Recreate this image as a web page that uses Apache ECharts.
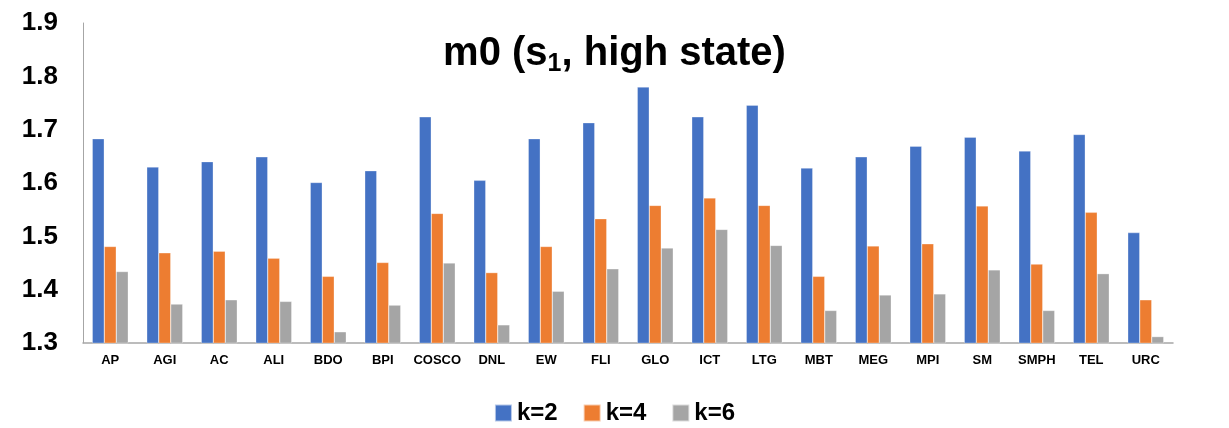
<!DOCTYPE html>
<html>
<head>
<meta charset="utf-8">
<script src="https://cdn.jsdelivr.net/npm/echarts@6/dist/echarts.min.js"></script>
<style>
  html, body { margin: 0; padding: 0; background: #fff; }
  #main { width: 1229px; height: 428px; }
</style>
</head>
<body>
<div id="main"></div>
<script>
// categories (stocks)
const categories = ['AP', 'AGI', 'AC', 'ALI', 'BDO', 'BPI', 'COSCO', 'DNL', 'EW', 'FLI',
  'GLO', 'ICT', 'LTG', 'MBT', 'MEG', 'MPI', 'SM', 'SMPH', 'TEL', 'URC'];

// m0 values per k
const k2 = [1.683, 1.630, 1.640, 1.649, 1.601, 1.623, 1.724, 1.605, 1.683, 1.713,
  1.780, 1.724, 1.746, 1.628, 1.649, 1.669, 1.686, 1.660, 1.691, 1.507];
const k4 = [1.481, 1.469, 1.472, 1.459, 1.425, 1.451, 1.543, 1.432, 1.481, 1.533,
  1.558, 1.572, 1.558, 1.425, 1.482, 1.486, 1.557, 1.448, 1.545, 1.381];
const k6 = [1.434, 1.373, 1.381, 1.378, 1.321, 1.371, 1.450, 1.334, 1.397, 1.439,
  1.478, 1.513, 1.483, 1.361, 1.390, 1.392, 1.437, 1.361, 1.430, 1.312];

const seriesNames = ['k=2', 'k=4', 'k=6'];
const colors = ['#4472C4', '#ED7D31', '#A5A5A5'];

const chart = echarts.init(document.getElementById('main'), null, { renderer: 'canvas' });

const font = 'Arial, "Liberation Sans", sans-serif';

const barStyle = (c) => ({ color: c, borderColor: 'rgba(255,255,255,0.6)', borderWidth: 0.5 });

chart.setOption({
  animation: false,
  backgroundColor: '#fff',
  color: colors,
  title: {
    text: '{a|m0 (s}{b|1}{a|, high state)}',
    left: 'center',
    top: 26,
    textStyle: {
      rich: {
        a: { fontFamily: font, fontSize: 40, lineHeight: 46, fontWeight: 'bold', color: '#000' },
        b: { fontFamily: font, fontSize: 25, lineHeight: 20, fontWeight: 'bold', color: '#000', verticalAlign: 'bottom' }
      }
    }
  },
  legend: {
    top: 396,
    left: 'center',
    itemWidth: 17,
    itemHeight: 17,
    itemGap: 25,
    icon: 'rect',
    textStyle: { fontFamily: font, fontSize: 24, fontWeight: 'bold', color: '#000' },
    data: seriesNames
  },
  grid: { left: 83, right: 56, top: 23, bottom: 85, containLabel: false },
  xAxis: {
    type: 'category',
    data: categories,
    axisLine: { lineStyle: { color: '#a6a6a6', width: 1.5 } },
    axisTick: { show: false },
    axisLabel: { fontFamily: font, fontSize: 13, fontWeight: 'bold', color: '#000', margin: 11, interval: 0 }
  },
  yAxis: {
    type: 'value',
    min: 1.3,
    max: 1.9,
    interval: 0.1,
    axisLine: { show: true, lineStyle: { color: '#a6a6a6', width: 1 } },
    axisTick: { show: false },
    splitLine: { show: false },
    axisLabel: {
      fontFamily: font, fontSize: 26, fontWeight: 'bold', color: '#000', margin: 25,
      formatter: (v) => v.toFixed(1)
    }
  },
  series: [
    { name: seriesNames[0], type: 'bar', data: k2, itemStyle: barStyle(colors[0]), barGap: '0%', barCategoryGap: '34%' },
    { name: seriesNames[1], type: 'bar', data: k4, itemStyle: barStyle(colors[1]), barGap: '0%', barCategoryGap: '34%' },
    { name: seriesNames[2], type: 'bar', data: k6, itemStyle: barStyle(colors[2]), barGap: '0%', barCategoryGap: '34%' }
  ]
});
</script>
</body>
</html>
